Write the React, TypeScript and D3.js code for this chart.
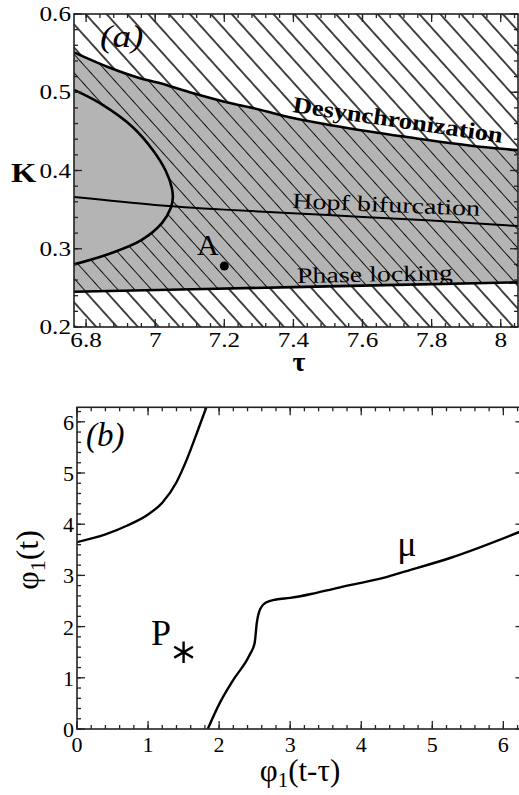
import React, { useRef, useEffect } from 'react';
import * as d3 from 'd3';

const W = 519;
const H = 795;
const FONT = "'Liberation Serif', 'DejaVu Serif', serif";

// panel (a): tau / K plane
const tauTicks = [6.8, 7, 7.2, 7.4, 7.6, 7.8, 8];
const kTicks = [0.2, 0.3, 0.4, 0.5, 0.6];

const desyncTau = [6.765, 6.865, 6.956, 7.01, 7.1, 7.2, 7.3, 7.37, 7.56, 7.757, 7.948, 8.05];
const desyncK = [0.551, 0.532, 0.518, 0.512, 0.5, 0.488, 0.478, 0.47, 0.454, 0.441, 0.43, 0.426];

const hopfTau = [6.765, 7.0, 7.2, 7.5, 7.8, 8.05];
const hopfK = [0.366, 0.356, 0.35, 0.343, 0.336, 0.329];

const lockTau = [6.765, 7.4, 8.05];
const lockK = [0.245, 0.251, 0.257];

const loopTau = [6.765, 6.84, 6.936, 6.995, 7.03, 7.048, 7.051, 7.045, 7.02, 6.96, 6.87, 6.765];
const loopK = [0.503, 0.486, 0.455, 0.425, 0.4, 0.378, 0.365, 0.352, 0.333, 0.311, 0.294, 0.28];

const pointA = { tau: 7.2, k: 0.278 };

// panel (b): return map
const phiTicks = [0, 1, 2, 3, 4, 5, 6];

const branch1X = [0, 0.4, 0.7, 1.0, 1.2, 1.4, 1.55, 1.7, 1.82];
const branch1Y = [3.65, 3.8, 3.97, 4.19, 4.42, 4.82, 5.28, 5.83, 6.283];

const muX = [1.84, 2.01, 2.2, 2.43, 2.5, 2.53, 2.58, 2.66, 2.8, 3.0, 3.37, 3.84, 4.31, 4.55, 5.25, 6.283];
const muY = [0, 0.51, 0.96, 1.45, 1.68, 2.07, 2.35, 2.47, 2.53, 2.56, 2.66, 2.81, 2.95, 3.05, 3.34, 3.88];

const pointP = { x: 1.5, y: 1.5 };

const zip = (xs: number[], ys: number[]) => xs.map((v, i) => [v, ys[i]] as [number, number]);

const App = () => {
  const ref = useRef<SVGSVGElement>(null);

  useEffect(() => {
    const svg = d3.select(ref.current);
    svg.selectAll('*').remove();
    const defs = svg.append('defs');

    const hatch = (id: string, gap: number, sw: number) => {
      const p = defs.append('pattern')
        .attr('id', id)
        .attr('patternUnits', 'userSpaceOnUse')
        .attr('width', 40)
        .attr('height', gap)
        .attr('patternTransform', 'rotate(48)');
      p.append('line')
        .attr('x1', 0).attr('x2', 40)
        .attr('y1', gap / 2).attr('y2', gap / 2)
        .attr('stroke', '#000')
        .attr('stroke-width', sw);
    };
    hatch('hatchW', 15.5, 1.4);
    hatch('hatchG', 12.5, 0.9);

    // ---------- panel (a)
    const xa = d3.scaleLinear().domain([6.765, 8.05]).range([74, 518]);
    const ya = d3.scaleLinear().domain([0.2, 0.6]).range([327, 14]);

    defs.append('clipPath').attr('id', 'clipA')
      .append('rect')
      .attr('x', xa(6.765)).attr('y', ya(0.6))
      .attr('width', xa(8.05) - xa(6.765)).attr('height', ya(0.2) - ya(0.6));

    const ga = svg.append('g');
    const plotA = ga.append('g').attr('clip-path', 'url(#clipA)');

    const lineA = d3.line<[number, number]>()
      .x(d => xa(d[0]))
      .y(d => ya(d[1]))
      .curve(d3.curveCatmullRom.alpha(0.5));

    plotA.append('rect')
      .attr('x', xa(6.765)).attr('y', ya(0.6))
      .attr('width', xa(8.05) - xa(6.765)).attr('height', ya(0.2) - ya(0.6))
      .attr('fill', 'url(#hatchW)');

    const top = lineA(zip(desyncTau, desyncK)) as string;
    const bottom = (lineA(zip(lockTau, lockK).reverse()) as string).replace(/^M/, 'L');
    const band = top + bottom + 'Z';
    plotA.append('path').attr('d', band).attr('fill', '#b4b4b4');
    plotA.append('path').attr('d', band).attr('fill', 'url(#hatchG)');

    const loop = (lineA(zip(loopTau, loopK)) as string) + 'Z';
    plotA.append('path').attr('d', loop).attr('fill', '#b4b4b4');

    const curvesA = [
      { pts: zip(desyncTau, desyncK), w: 2.6 },
      { pts: zip(loopTau, loopK), w: 2.6 },
      { pts: zip(hopfTau, hopfK), w: 2 },
      { pts: zip(lockTau, lockK), w: 2.6 },
    ];
    curvesA.forEach(c => {
      plotA.append('path')
        .attr('d', lineA(c.pts))
        .attr('fill', 'none')
        .attr('stroke', '#000')
        .attr('stroke-width', c.w);
    });

    plotA.append('circle')
      .attr('cx', xa(pointA.tau)).attr('cy', ya(pointA.k))
      .attr('r', 4.5).attr('fill', '#000');

    // ticks (inward, all sides)
    const tauMinor = d3.range(6.76, 8.06, 0.04).filter(v => v > 6.766 && v < 8.049);
    const kMinor = d3.range(0.2, 0.6001, 0.02);
    const tickA = (v: number, len: number) => {
      ga.append('line').attr('x1', xa(v)).attr('x2', xa(v)).attr('y1', ya(0.2)).attr('y2', ya(0.2) - len);
      ga.append('line').attr('x1', xa(v)).attr('x2', xa(v)).attr('y1', ya(0.6)).attr('y2', ya(0.6) + len);
    };
    tauMinor.forEach(v => tickA(v, 4));
    tauTicks.forEach(v => tickA(v, 8));
    const tickAy = (v: number, len: number) => {
      ga.append('line').attr('x1', xa(6.765)).attr('x2', xa(6.765) + len).attr('y1', ya(v)).attr('y2', ya(v));
      ga.append('line').attr('x1', xa(8.05)).attr('x2', xa(8.05) - len).attr('y1', ya(v)).attr('y2', ya(v));
    };
    kMinor.forEach(v => tickAy(v, 4));
    kTicks.forEach(v => tickAy(v, 8));
    ga.selectAll('line').attr('stroke', '#222').attr('stroke-width', 1.3);

    ga.append('rect')
      .attr('x', xa(6.765)).attr('y', ya(0.6))
      .attr('width', xa(8.05) - xa(6.765)).attr('height', ya(0.2) - ya(0.6))
      .attr('fill', 'none').attr('stroke', '#222').attr('stroke-width', 1.6);

    const labelA = ga.append('g').attr('font-family', FONT).attr('fill', '#000');
    tauTicks.forEach(v => {
      labelA.append('text')
        .attr('transform', `translate(${xa(v)},347) scale(1.2,1)`)
        .attr('text-anchor', 'middle')
        .attr('font-size', 21)
        .text(d3.format('~g')(v));
    });
    kTicks.forEach(v => {
      labelA.append('text')
        .attr('transform', `translate(71,${ya(v) + 7}) scale(1.2,1)`)
        .attr('text-anchor', 'end')
        .attr('font-size', 21)
        .text(d3.format('.1f')(v));
    });

    labelA.append('text')
      .attr('transform', 'translate(100,47) scale(1.2,1)')
      .attr('font-size', 31).attr('font-style', 'italic')
      .text('(a)');
    labelA.append('text')
      .attr('transform', 'translate(11,182) scale(1.2,1)')
      .attr('font-size', 27).attr('font-weight', 'bold')
      .text('K');
    labelA.append('text')
      .attr('x', 299).attr('y', 371)
      .attr('text-anchor', 'middle')
      .attr('font-size', 28).attr('font-weight', 'bold')
      .text('τ');
    labelA.append('text')
      .attr('x', 197).attr('y', 255)
      .attr('font-size', 30)
      .text('A');

    const curveLabels = [
      { t: 'Desynchronization', x: 292, y: 112, a: 8.4, len: 212, fs: 23, bold: true },
      { t: 'Hopf bifurcation', x: 292, y: 208, a: 2.4, len: 188, fs: 22, bold: false },
      { t: 'Phase locking', x: 297, y: 283, a: -1.1, len: 156, fs: 22, bold: false },
    ];
    curveLabels.forEach(l => {
      labelA.append('text')
        .attr('transform', `translate(${l.x},${l.y}) rotate(${l.a})`)
        .attr('font-size', l.fs)
        .attr('font-weight', l.bold ? 'bold' : 'normal')
        .attr('textLength', l.len)
        .attr('lengthAdjust', 'spacingAndGlyphs')
        .text(l.t);
    });

    // ---------- panel (b)
    const TWO_PI = 2 * Math.PI;
    const xb = d3.scaleLinear().domain([0, TWO_PI]).range([77, 77 + TWO_PI * 71.06]);
    const yb = d3.scaleLinear().domain([0, TWO_PI]).range([729, 729 - TWO_PI * 51.2]);

    defs.append('clipPath').attr('id', 'clipB')
      .append('rect')
      .attr('x', xb(0)).attr('y', yb(TWO_PI))
      .attr('width', xb(TWO_PI) - xb(0)).attr('height', yb(0) - yb(TWO_PI));

    const gb = svg.append('g');
    const plotB = gb.append('g').attr('clip-path', 'url(#clipB)');
    const lineB = d3.line<[number, number]>()
      .x(d => xb(d[0]))
      .y(d => yb(d[1]))
      .curve(d3.curveMonotoneX);

    [zip(branch1X, branch1Y), zip(muX, muY)].forEach(pts => {
      plotB.append('path')
        .attr('d', lineB(pts))
        .attr('fill', 'none')
        .attr('stroke', '#000')
        .attr('stroke-width', 2.4);
    });

    plotB.append('path')
      .attr('transform', `translate(${xb(pointP.x)},${yb(pointP.y)})`)
      .attr('d', d3.symbol(d3.symbolAsterisk, 330)())
      .attr('fill', 'none')
      .attr('stroke', '#000')
      .attr('stroke-width', 2.4);

    const ticksB = gb.append('g');
    const phiMinor = d3.range(0, 6.3, 0.2);
    const tickB = (v: number, len: number) => {
      ticksB.append('line').attr('x1', xb(v)).attr('x2', xb(v)).attr('y1', yb(0)).attr('y2', yb(0) - len);
      ticksB.append('line').attr('x1', xb(v)).attr('x2', xb(v)).attr('y1', yb(TWO_PI)).attr('y2', yb(TWO_PI) + len);
      ticksB.append('line').attr('x1', xb(0)).attr('x2', xb(0) + len).attr('y1', yb(v)).attr('y2', yb(v));
      ticksB.append('line').attr('x1', xb(TWO_PI)).attr('x2', xb(TWO_PI) - len).attr('y1', yb(v)).attr('y2', yb(v));
    };
    phiMinor.forEach(v => tickB(v, 4));
    phiTicks.forEach(v => tickB(v, 8));
    ticksB.selectAll('line').attr('stroke', '#222').attr('stroke-width', 1.3);

    gb.append('rect')
      .attr('x', xb(0)).attr('y', yb(TWO_PI))
      .attr('width', xb(TWO_PI) - xb(0)).attr('height', yb(0) - yb(TWO_PI))
      .attr('fill', 'none').attr('stroke', '#222').attr('stroke-width', 1.6);

    const labelB = gb.append('g').attr('font-family', FONT).attr('fill', '#000');
    phiTicks.forEach(v => {
      labelB.append('text')
        .attr('x', xb(v)).attr('y', 752)
        .attr('text-anchor', 'middle')
        .attr('font-size', 22)
        .text(v);
      labelB.append('text')
        .attr('x', 74).attr('y', yb(v) + 8)
        .attr('text-anchor', 'end')
        .attr('font-size', 22)
        .text(v);
    });

    labelB.append('text')
      .attr('x', 86).attr('y', 446)
      .attr('font-size', 33).attr('font-style', 'italic')
      .text('(b)');

    const yl = labelB.append('text')
      .attr('transform', 'translate(38,560) rotate(-90)')
      .attr('text-anchor', 'middle')
      .attr('font-size', 32);
    yl.append('tspan').text('φ');
    yl.append('tspan').attr('font-size', 22).attr('dy', 7).text('1');
    yl.append('tspan').attr('dy', -7).text('(t)');

    const xl = labelB.append('text')
      .attr('x', 300).attr('y', 781)
      .attr('text-anchor', 'middle')
      .attr('font-size', 31);
    xl.append('tspan').text('φ');
    xl.append('tspan').attr('font-size', 21).attr('dy', 6).text('1');
    xl.append('tspan').attr('dy', -6).text('(t-τ)');

    labelB.append('text')
      .attr('x', 407).attr('y', 556)
      .attr('text-anchor', 'middle')
      .attr('font-size', 36)
      .text('μ');
    labelB.append('text')
      .attr('x', 151).attr('y', 645)
      .attr('font-size', 36)
      .text('P');
  }, []);

  return (
    <svg
      ref={ref}
      width={W}
      height={H}
      style={{ position: 'absolute', left: 0, top: 0, background: '#fff' }}
    />
  );
};

export default App;
